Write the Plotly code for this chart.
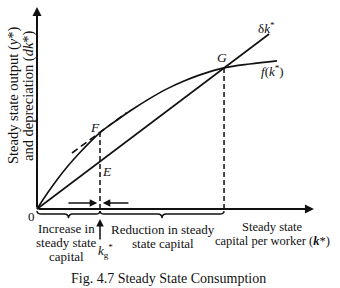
import plotly.graph_objects as go

# ---- data (units: capital per worker k*, output / depreciation) ----
k_curve = [0, 0.375, 0.75, 1.125, 1.5, 1.875, 2.25, 2.85, 3.43, 4.05, 4.64, 5.25, 5.82, 6.68, 7.6, 8.57]
f_curve = [0, 0.57, 1.09, 1.56, 1.98, 2.37, 2.73, 3.17, 3.57, 3.96, 4.29, 4.57, 4.79, 5.04, 5.18, 5.29]
dep_k = [0, 8.29]
dep_y = [0, 6.25]
tangent_k = [1.25, 3.2]
tangent_y = [2.0, 3.44]
k_gold = 2.25
f_gold = 2.73
e_gold = 1.70
k_G = 6.68
f_G = 5.04
x_axis_end = 9.89
y_axis_end = 7.21

W, H = 340, 288
SC = 28.0
OX, OY = 37, 209
INK = "#111111"
FONT = "Liberation Serif"

fig = go.Figure()
line = dict(color=INK, width=1.6)
fig.add_trace(go.Scatter(x=k_curve, y=f_curve, mode="lines", line=dict(color=INK, width=1.6, shape="spline", smoothing=1.0), hoverinfo="skip"))
fig.add_trace(go.Scatter(x=dep_k, y=dep_y, mode="lines", line=line, hoverinfo="skip"))
fig.add_trace(go.Scatter(x=tangent_k, y=tangent_y, mode="lines", line=dict(color=INK, width=1.6, dash="7px,4px"), hoverinfo="skip"))
fig.add_trace(go.Scatter(x=[k_gold, k_gold], y=[0, f_gold], mode="lines", line=dict(color=INK, width=1.5, dash="5px,3px"), hoverinfo="skip"))
fig.add_trace(go.Scatter(x=[k_G, k_G], y=[0, f_G], mode="lines", line=dict(color=INK, width=1.5, dash="5px,3px"), hoverinfo="skip"))

anns = []
def arrow(x0, y0, x1, y1, w=1.6, size=1.0):
    anns.append(dict(x=x1, y=y1, ax=x0, ay=y0, xref="x", yref="y", axref="x", ayref="y",
                     showarrow=True, arrowhead=2, arrowsize=size, arrowwidth=w,
                     arrowcolor=INK, standoff=0, startstandoff=0, text=""))

# axes
arrow(0, 0, x_axis_end, 0, w=2.0, size=0.9)
arrow(0, 0, 0, y_axis_end, w=2.0, size=0.9)
# small arrows on the axis
arrow(1.07, 0.21, k_gold - 0.1, 0.21, w=1.5, size=1.0)
arrow(3.32, 0.21, k_gold + 0.1, 0.21, w=1.5, size=1.0)
# up arrow under k_g
arrow(k_gold, -1.14, k_gold, -0.36, w=1.5, size=1.0)

# braces
shapes = []
yt, ym, yb, r = -0.07, -0.18, -0.33, 0.15
for (a, b) in [(0, k_gold), (k_gold, k_G)]:
    m = (a + b) / 2
    path = (f"M {a},{yt} Q {a},{ym} {a + r},{ym} L {m - r},{ym} Q {m},{ym} {m},{yb} "
            f"Q {m},{ym} {m + r},{ym} L {b - r},{ym} Q {b},{ym} {b},{yt}")
    shapes.append(dict(type="path", path=path, xref="x", yref="y", line=dict(color=INK, width=1.4)))

def text(t, px, py, size=13, angle=0, xanchor="center"):
    anns.append(dict(x=px / W, y=1 - py / H, xref="paper", yref="paper", text=t, showarrow=False,
                     textangle=angle, xanchor=xanchor, yanchor="middle",
                     font=dict(family=FONT, size=size, color=INK)))

text("Steady state output (<i>y</i>*)", 14, 96, size=14.5, angle=-90)
text("and depreciation (<i>dk</i>*)", 29, 96, size=14.5, angle=-90)
text("0", 31, 216, size=13)
text("<i>F</i>", 95, 127, size=13.5)
text("<i>E</i>", 107, 171, size=13.5)
text("<i>G</i>", 222, 58, size=13.5)
text("δ<i>k</i><sup>*</sup>", 266, 28, size=13)
text("<i>f</i>(<i>k</i><sup>*</sup>)", 272, 71, size=13)
text("Increase in", 66, 228, size=13)
text("steady state", 66, 242, size=13)
text("capital", 66, 256, size=13)
text("Reduction in steady", 163, 229)
text("state capital", 163, 243)
text("<i>k</i><sub>g</sub><sup>*</sup>", 105, 251)
text("Steady state", 272, 227, size=12.5)
text("capital per worker (<b><i>k</i></b>*)", 272, 241, size=12.5)
text("Fig. 4.7 Steady State Consumption", 168, 278, size=14)

fig.update_layout(
    width=W, height=H, margin=dict(l=0, r=0, t=0, b=0),
    paper_bgcolor="white", plot_bgcolor="white", showlegend=False,
    xaxis=dict(range=[-OX / SC, (W - OX) / SC], visible=False, fixedrange=True),
    yaxis=dict(range=[-(H - OY) / SC, OY / SC], visible=False, fixedrange=True),
    annotations=anns, shapes=shapes,
)
fig.write_html("out.html")
